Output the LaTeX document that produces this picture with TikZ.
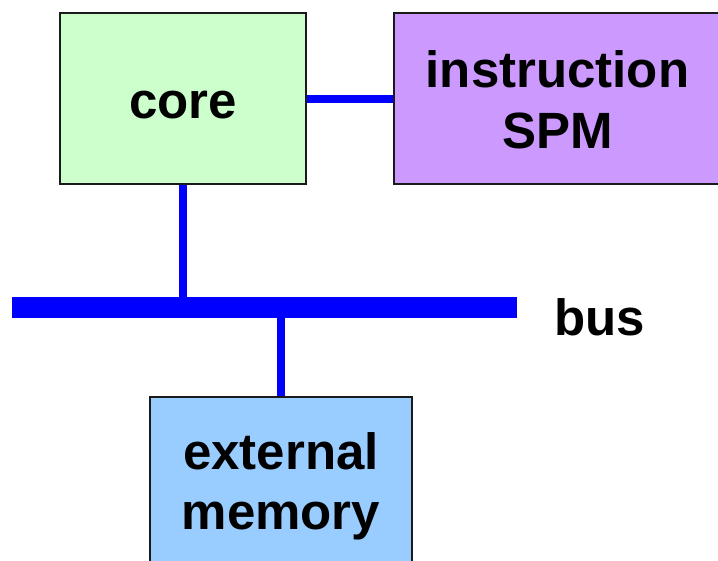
\documentclass[tikz,border=0pt]{standalone}
\usepackage{fontspec}
\setmainfont{Liberation Sans}
\definecolor{coregreen}{HTML}{CCFFCC}
\definecolor{spmpurple}{HTML}{CC99FF}
\definecolor{memblue}{HTML}{99CCFF}
\definecolor{busblue}{HTML}{0000FF}
\definecolor{edge}{HTML}{1A1A1A}
\tikzset{
  unitbox/.style={draw=edge, line width=1.6pt, rectangle, inner sep=0pt},
  lbl/.style={anchor=base, inner sep=0pt, font=\bfseries\fontsize{51}{60}\selectfont},
  link/.style={draw=busblue, line width=8pt},
}
\begin{document}
\begin{tikzpicture}[x=1pt, y=-1pt]
  \useasboundingbox (0,0) rectangle (718,560);
  \clip (0,0) rectangle (718,560);
  \fill[white] (0,0) rectangle (718,560);

  % blocks
  \node[unitbox, fill=coregreen, minimum width=246pt, minimum height=171pt] (core) at (183,98.5) {};
  \node[unitbox, fill=spmpurple, minimum width=327pt, minimum height=171pt] (spm) at (557.5,98.5) {};
  \node[unitbox, fill=memblue, minimum width=262pt, minimum height=170pt] (mem) at (281,482) {};

  % the bus bar
  \node[rectangle, fill=busblue, inner sep=0pt, minimum width=505pt, minimum height=21pt] (bus) at (264.5,307.5) {};

  % connections
  \draw[link] (core.east) -- (spm.west);
  \draw[link] (core.south) -- (core.south |- bus.north);
  \draw[link] (mem.north) -- (mem.north |- bus.south);

  % labels
  \node[lbl] (tcore) at (183,118) {core};
  \node[lbl] (tinstr) at (557.5,87) {instruction};
  \node[lbl] (tspm) at (557.5,148) {SPM};
  \node[lbl] (tbus) at (600,335) {bus};
  \node[lbl] (text1) at (281,469) {external};
  \node[lbl] (text2) at (281,529) {memory};
\end{tikzpicture}
\end{document}
